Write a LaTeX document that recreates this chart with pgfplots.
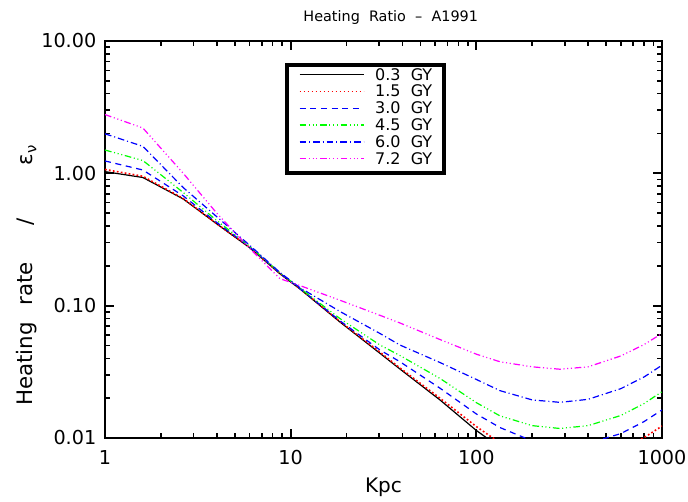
\documentclass[border=0pt]{standalone}
\usepackage{fontspec}
\setmainfont{DejaVu Sans}
\usepackage{pgfplots}
\usepackage{pgfplotstable}
\pgfplotsset{compat=1.18}
\definecolor{idlblue}{RGB}{0,0,255}
\definecolor{idlgreen}{RGB}{0,255,0}
\definecolor{idlmag}{RGB}{255,0,255}
\tikzset{
  s03/.style={draw=black, solid},
  s15/.style={draw=red, line width=1.2pt, dash pattern=on 1.3pt off 1.7pt},
  s30/.style={draw=idlblue, dash pattern=on 4.5pt off 3.5pt},
  s45/.style={draw=idlgreen, dash pattern=on 5pt off 2pt on 0.8pt off 2pt on 0.8pt off 2pt on 0.8pt off 2pt},
  s60/.style={draw=idlblue, dash pattern=on 5pt off 2.2pt on 0.8pt off 2.2pt},
  s72/.style={draw=idlmag, dash pattern=on 5pt off 2pt on 0.8pt off 2pt on 0.8pt off 2pt on 0.8pt off 2pt},
}
\newcommand{\LegLine}[2]{{\color{#1}\tikz[baseline=-4.2pt]\draw[line width=0.9pt,#2] (0pt,0pt)--(48pt,0pt);}}
\pgfplotstableread{
x      a       b       c       d       e       f
1      1.03    1.07    1.24    1.50    1.99    2.78
1.6    0.93    0.95    1.06    1.25    1.60    2.20
2.64   0.64    0.645   0.675   0.716   0.78    1.00
4      0.415   0.416   0.425   0.44    0.47    0.50
6      0.275   0.276   0.279   0.282   0.287   0.272
8.76   0.174   0.175   0.176   0.177   0.178   0.160
11.2   0.134   0.135   0.135   0.136   0.137   0.142
18.4   0.0754  0.0760  0.0770  0.0800  0.0905  0.110
30.3   0.0436  0.0445  0.0462  0.0504  0.0616  0.0845
38.8   0.0332  0.0338  0.0377  0.0420  0.0504  0.0740
63.7   0.0194  0.0200  0.0238  0.0282  0.0372  0.0555
100    0.0114  0.0122  0.0152  0.0185  0.0277  0.0430
134    0.0085  0.0092  0.0120  0.0147  0.0228  0.0377
200    0.0065  0.0074  0.0095  0.0124  0.0194  0.0345
282    0.0058  0.0069  0.0088  0.0118  0.0186  0.0331
400    0.0057  0.00705 0.0091  0.0124  0.0196  0.0345
600    0.0063  0.00826 0.0108  0.0148  0.0236  0.0417
800    0.0072  0.01007 0.0133  0.0182  0.0289  0.0508
1000   0.0085  0.0123  0.0163  0.0224  0.0355  0.0617
}\data
\begin{document}
\begin{tikzpicture}[x=0.75pt,y=0.75pt]
\useasboundingbox (-105,-64) rectangle (583,438);
\begin{axis}[
  at={(0,0)}, anchor=south west,
  scale only axis, width=417.75pt, height=297.75pt,
  xmode=log, ymode=log,
  xmin=1, xmax=1000, ymin=0.01, ymax=10,
  xtick={1,10,100,1000}, xticklabels={1,10,100,1000},
  ytick={0.01,0.1,1,10}, yticklabels={0.01,0.10,1.00,10.00},
  /pgf/number format/assume math mode=true,
  tick label style={font=\fontsize{14.4}{16}\selectfont},
  xticklabel style={yshift=-6pt},
  yticklabel style={xshift=-3pt},
  axis line style={line width=2pt},
  major tick style={line width=1.6pt, black},
  minor tick style={line width=1.2pt, black},
  major tick length=7pt, minor tick length=4pt,
  tick align=inside,
  every axis title shift=0pt,
  title={Heating\ \ Ratio\ \ --\ \ A1991},
  title style={at={(axis description cs:0.513,1.06)}, anchor=center, font=\fontsize{10.8}{13}\selectfont},
  xlabel={Kpc},
  xlabel style={at={(axis description cs:0.5,-0.123)}, anchor=center, font=\fontsize{15}{17}\selectfont},
  ylabel={Heating\hspace{12.5pt}rate\hspace{27.5pt}/\hspace{40pt}ε\textsubscript{ν}},
  ylabel style={at={(axis description cs:-0.14,0.41)}, anchor=center, font=\fontsize{16}{18}\selectfont},
  every axis plot/.append style={line width=0.9pt},
]
\addplot[s03] table[x=x,y=a] {\data};
\addplot[s15] table[x=x,y=b] {\data};
\addplot[s30] table[x=x,y=c] {\data};
\addplot[s45] table[x=x,y=d] {\data};
\addplot[s60] table[x=x,y=e] {\data};
\addplot[s72] table[x=x,y=f] {\data};
\node[draw=black, line width=3pt, fill=white, anchor=north west, inner xsep=9pt, inner ysep=2.5pt,
      font=\fontsize{12}{12.5}\selectfont]
  at (axis description cs:0.323,0.945) {%
  \begin{tabular}{@{}l@{\hspace{8pt}}l@{}}
  \LegLine{black}{s03} & 0.3\ \ GY\\
  \LegLine{red}{s15} & 1.5\ \ GY\\
  \LegLine{idlblue}{s30} & 3.0\ \ GY\\
  \LegLine{idlgreen}{s45} & 4.5\ \ GY\\
  \LegLine{idlblue}{s60} & 6.0\ \ GY\\
  \LegLine{idlmag}{s72} & 7.2\ \ GY
  \end{tabular}};
\end{axis}
\end{tikzpicture}
\end{document}
